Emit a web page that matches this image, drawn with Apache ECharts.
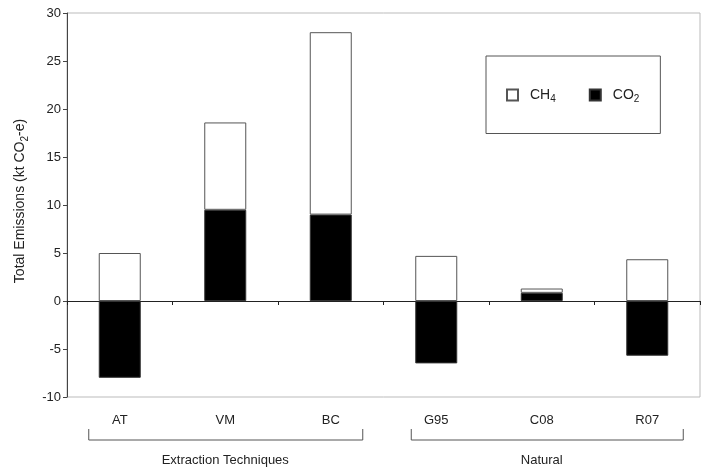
<!DOCTYPE html>
<html><head><meta charset="utf-8">
<script src="https://cdn.jsdelivr.net/npm/echarts@6/dist/echarts.min.js"></script>
<style>html,body{margin:0;padding:0;background:#fff}#c{width:707px;height:469px}</style>
</head><body><div id="c"></div>
<script>
const categories = ['AT', 'VM', 'BC', 'G95', 'C08', 'R07'];
const groups = ['Extraction Techniques', 'Natural'];
const co2 = [-8, 9.5, 9, -6.5, 0.85, -5.7];
const ch4 = [5, 9.1, 19, 4.7, 0.45, 4.35];
const yMin = -10, yMax = 30, yStep = 5;

const FONT = '"Liberation Sans", Arial, sans-serif';
const chart = echarts.init(document.getElementById('c'), null, {renderer: 'canvas'});

function richSub(size, subSize, lh) {
  return {
    a: {fontFamily: FONT, fontSize: size, color: '#222', lineHeight: lh, verticalAlign: 'middle', padding: [0, 0, 0, 7]},
    n: {fontFamily: FONT, fontSize: size, color: '#222', lineHeight: lh, verticalAlign: 'middle'},
    s: {fontFamily: FONT, fontSize: subSize, color: '#222', lineHeight: lh, verticalAlign: 'bottom'}
  };
}

chart.setOption({
  animation: false,
  backgroundColor: '#fff',
  textStyle: {fontFamily: FONT},
  grid: {left: 67, right: 7, top: 13, bottom: 72, show: true, borderColor: '#bbb', borderWidth: 1, containLabel: false},
  legend: {
    data: ['CH4', 'CO2'],
    left: 486, top: 56,
    orient: 'horizontal',
    padding: [32, 21, 29, 20],
    itemGap: 33,
    itemWidth: 11, itemHeight: 11,
    icon: 'rect',
    borderColor: '#555', borderWidth: 1,
    formatter: name => name === 'CH4' ? '{a|CH}{s|4}' : '{a|CO}{s|2}',
    textStyle: {rich: richSub(14, 10, 19)}
  },
  xAxis: [
    {
      type: 'category', data: categories, boundaryGap: true,
      axisLine: {onZero: true, lineStyle: {color: '#222', width: 1}},
      axisTick: {show: true, length: 4, inside: false, lineStyle: {color: '#222'}},
      axisLabel: {show: false},
      splitLine: {show: false}
    },
    {
      type: 'category', data: categories, position: 'bottom', boundaryGap: true,
      axisLine: {show: false, onZero: false}, axisTick: {show: false},
      axisLabel: {show: true, margin: 17, fontSize: 13, color: '#222', fontFamily: FONT},
      splitLine: {show: false}
    },
    {
      type: 'category', data: groups, position: 'bottom', boundaryGap: true,
      axisLine: {show: false, onZero: false}, axisTick: {show: false},
      axisLabel: {show: true, margin: 57, fontSize: 13, color: '#222', fontFamily: FONT},
      splitLine: {show: false}
    }
  ],
  yAxis: {
    type: 'value', min: yMin, max: yMax, interval: yStep,
    name: '{n|Total Emissions (kt CO}{s|2}{n|-e)}',
    nameLocation: 'middle', nameGap: 37, nameRotate: 90,
    nameTextStyle: {rich: richSub(14, 10, 19), padding: [0, 0, 0, 8]},
    axisLine: {show: true, lineStyle: {color: '#444', width: 1}},
    axisTick: {show: true, length: 4, inside: false, lineStyle: {color: '#444'}},
    axisLabel: {margin: 6, fontSize: 13, color: '#222', fontFamily: FONT},
    splitLine: {show: false}
  },
  series: [
    {
      name: 'CO2', type: 'bar', stack: 'total', xAxisIndex: 0, data: co2, barWidth: 42,
      itemStyle: {color: '#000', borderColor: '#333', borderWidth: 1}
    },
    {
      name: 'CH4', type: 'bar', stack: 'total', xAxisIndex: 0, data: ch4, barWidth: 42,
      itemStyle: {color: '#fff', borderColor: '#555', borderWidth: 1}
    }
  ]
});

// group brackets under the category labels
const px = c => chart.convertToPixel({xAxisIndex: 0}, c);
const yTop = 429, yBot = 440;
const brackets = [
  [px('AT') - 31, px('BC') + 32],
  [px('G95') - 25, px('R07') + 36]
];
chart.setOption({
  graphic: brackets.map(([x0, x1]) => ({
    type: 'polyline',
    shape: {points: [[x0, yTop], [x0, yBot], [x1, yBot], [x1, yTop]]},
    style: {stroke: '#555', lineWidth: 1, fill: null}
  }))
});
</script>
</body></html>
